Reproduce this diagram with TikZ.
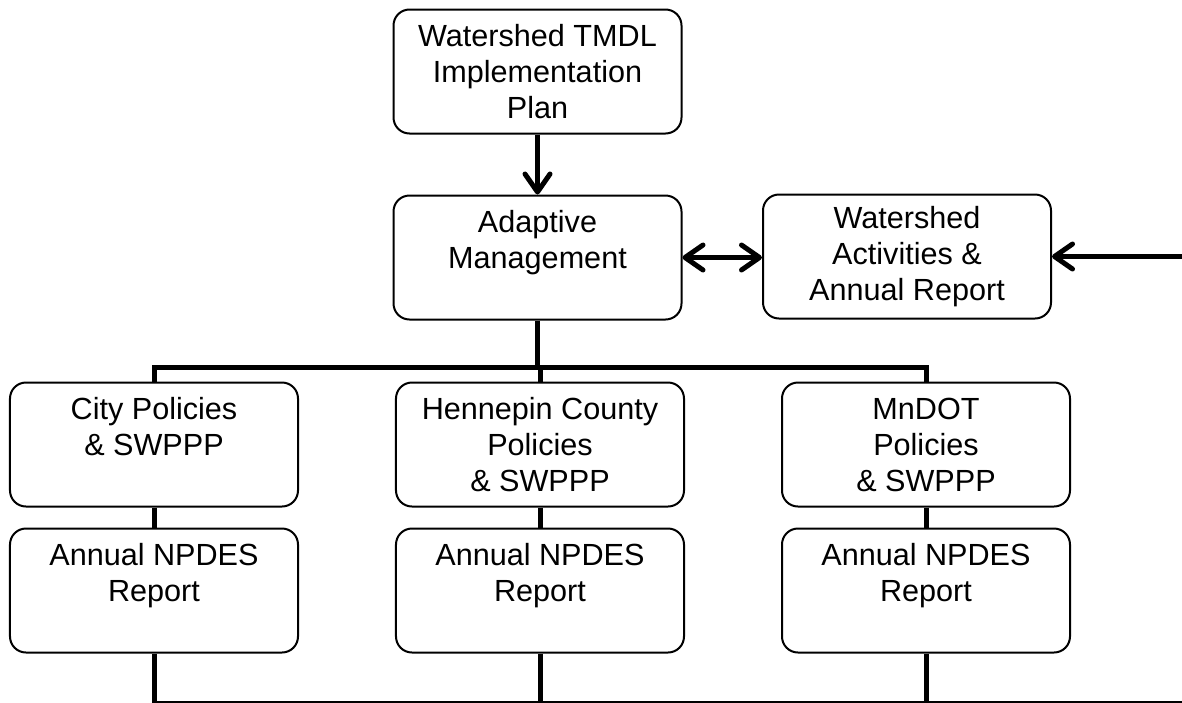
\documentclass[tikz,border=0pt]{standalone}
\usepackage{fontspec}
\setmainfont{Liberation Sans}
\usetikzlibrary{arrows.meta,matrix}

\begin{document}
\begin{tikzpicture}[x=0.5pt, y=-0.5pt,
	flowbox/.style={
		shape=rectangle,
		rounded corners=8pt,
		draw=black,
		line width=1pt,
		minimum width=144pt,
		minimum height=62pt,
		align=center,
		font=\fontsize{15.3}{18}\selectfont,
	},
]
\useasboundingbox (0,0) rectangle (1182,702);
\clip (0,0) rectangle (1182,702);

\node[flowbox] (plan) at (537.5,71.5) {Watershed TMDL\\Implementation\\Plan};
\node[flowbox] (adapt) at (537.5,257.5) {Adaptive\\Management\\\mbox{}};
\node[flowbox] (activity) at (907,256.5) {Watershed\\Activities \&\\Annual Report};

\matrix (grid) at (540,517.5) [column sep=48pt, row sep=10pt, nodes={flowbox}] {
	\node (city) {City Policies\\\& SWPPP\\\mbox{}}; &
	\node (county) {Hennepin County\\Policies\\\& SWPPP}; &
	\node (mndot) {MnDOT\\Policies\\\& SWPPP}; \\

	\node (cityrep) {Annual NPDES\\Report\\\mbox{}}; &
	\node (countyrep) {Annual NPDES\\Report\\\mbox{}}; &
	\node (mndotrep) {Annual NPDES\\Report\\\mbox{}}; \\
};

\coordinate (bus) at (537.5,367);
\coordinate (feed) at (1195,256.5);
\coordinate (base) at (1195,703);

\begin{scope}[line width=2.5pt, >={Straight Barb[length=9pt,width=12.5pt,round]}]
\draw[->] (plan) -- (adapt);
\draw[<->] (adapt.east) -- (adapt.east -| activity.west);
\draw[->] (feed) -- (activity.east);
\draw (adapt.south) -- (bus);
\draw (city.north) |- (bus) -| (mndot.north);
\draw (county.north) -- (county.north |- bus);
\draw (city) -- (cityrep);
\draw (county) -- (countyrep);
\draw (mndot) -- (mndotrep);
\draw (cityrep.south) |- (base);
\draw (countyrep.south) -- (countyrep.south |- base);
\draw (mndotrep.south) -- (mndotrep.south |- base);
\end{scope}
\end{tikzpicture}
\end{document}
